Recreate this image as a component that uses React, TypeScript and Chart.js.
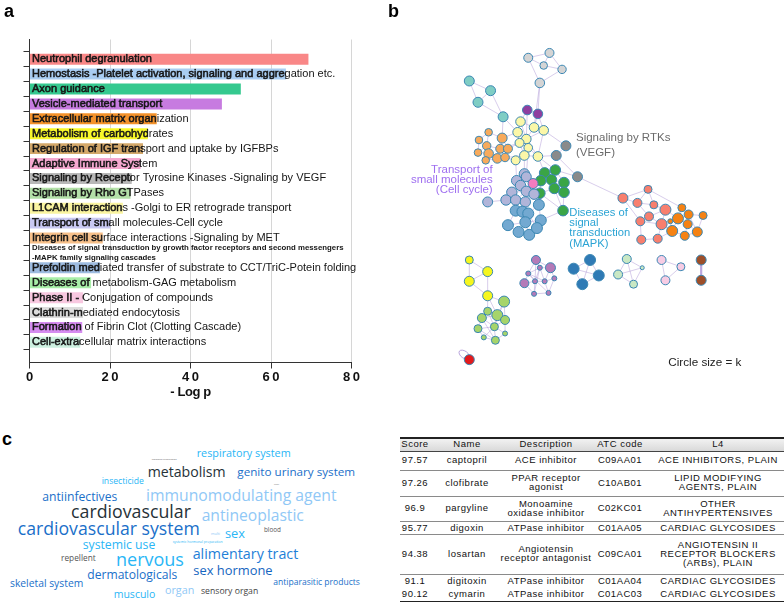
import React, { useEffect, useRef } from 'react';
import { Chart, registerables } from 'chart.js';
Chart.register(...registerables);

const FONT = '"Liberation Sans", Arial, Helvetica, sans-serif';

// ---------- Panel a data ----------
const pathways: (string | string[])[] = [
  'Neutrophil degranulation',
  'Hemostasis -Platelet activation, signaling and aggregation etc.',
  'Axon guidance',
  'Vesicle-mediated transport',
  'Extracellular matrix organization',
  'Metabolism of carbohydrates',
  'Regulation of IGF transport and uptake by IGFBPs',
  'Adaptive Immune System',
  'Signaling by Receptor Tyrosine Kinases -Signaling by VEGF',
  'Signaling by Rho GTPases',
  'L1CAM interactions -Golgi to ER retrograde transport',
  'Transport of small molecules-Cell cycle',
  'Integrin cell surface interactions -Signaling by MET',
  ['Diseases of signal transduction by growth factor receptors and second messengers', '-MAPK family signaling cascades'],
  'Prefoldin mediated transfer of substrate to CCT/TriC-Potein folding',
  'Diseases of metabolism-GAG metabolism',
  'Phase II - Conjugation of compounds',
  'Clathrin-mediated endocytosis',
  'Formation of Fibrin Clot (Clotting Cascade)',
  'Cell-extracellular matrix interactions',
];
const logP: (number | null)[] = [69.3, 63.7, 52.5, 47.8, 31.6, 29.4, 28.2, 27.6, 25.4, 25.1, 23.2, 20.1, 18.2, null, 17.5, 15.3, 13.3, 13.3, 13.1, 12.6];
const barColors = ['#f98787', '#a9cdf2', '#35c98f', '#c77be0', '#f4922a', '#f8f82a', '#d4a86a', '#f5a8d0', '#b8b8b8', '#b3e0a8', '#faf4a0', '#c8c8f2', '#f7c08a', '#ffffff', '#9dbbe0', '#a8eea8', '#f8c8e0', '#dcdcdc', '#d58cf0', '#cdf0e0'];
const xTicks = [0, 20, 40, 60, 80];
const xTitle = '- Log p';

// ---------- Panel b data ----------
const nodes: [string, number, number, number][] = [
  ['g0', 126, 53, 4.5], ['g1', 148, 48, 4.5], ['g2', 142, 61, 3.8], ['g3', 161, 65, 4.2], ['g4', 138, 79, 4.8],
  ['t0', 65, 77, 5], ['t1', 87, 87, 5], ['t2', 74, 99, 5], ['t3', 100, 114, 5],
  ['p0', 125, 107, 4.8], ['p1', 136, 111, 4.8],
  ['y0', 118, 119, 4.8], ['y1', 132, 125, 4.8], ['y2', 142, 128, 4.8], ['y3', 115, 130, 4.8], ['y4', 124, 137, 4.8],
  ['y5', 117, 141, 4.5], ['y6', 126, 146, 4.3], ['y7', 122, 154, 4.8], ['y8', 136, 155, 4.8], ['y9', 113, 159, 4.5],
  ['o0', 85, 130, 3.8], ['o1', 75, 138, 3.8], ['o2', 99, 136, 5], ['o3', 83, 144, 4.2], ['o4', 97, 147, 4.5], ['o5', 105, 147, 4.5],
  ['o6', 74, 151, 3.8], ['o7', 85, 152, 4.8], ['o8', 94, 157, 4.8], ['o9', 102, 156, 4.3], ['o10', 82, 159, 3.8],
  ['r0', 165, 144, 5], ['r1', 155, 154, 5], ['r2', 177, 176, 5],
  ['gr0', 143, 172, 5.3], ['gr1', 154, 169, 5.3], ['gr2', 139, 180, 5.3], ['gr3', 150, 179, 5.3], ['gr4', 163, 182, 5.3],
  ['gr5', 153, 188, 5.3], ['gr6', 163, 192, 5.3], ['gr7', 138, 193, 5.3], ['gr9', 162, 211, 5.3],
  ['l0', 122, 173, 5.2], ['l1', 114, 180, 5.2], ['l2', 118, 185, 5.2], ['l3', 124, 191, 5.2], ['l4', 132, 194, 5.2],
  ['l5', 109, 192, 5.2], ['l6', 84, 202, 5], ['l7', 103, 200, 5.2], ['l8', 113, 200, 5.2], ['l9', 123, 202, 5.2], ['l11', 124, 176, 5],
  ['pk0', 131, 183, 5],
  ['s0', 113, 211, 5.5], ['s1', 120, 212, 5.5], ['s2', 126, 214, 5.5], ['s3', 137, 205, 5.5], ['s4', 105, 226, 5.5],
  ['s5', 123, 223, 5.5], ['s6', 139, 221, 5.5], ['s7', 116, 233, 5.5], ['s8', 127, 236, 5.5], ['s9', 135, 229, 5.5],
  ['sa0', 224, 198, 5], ['sa1', 250, 189, 4], ['sa2', 239, 203, 4.5], ['sa3', 256, 205, 4], ['sa4', 268, 210, 5.5],
  ['sa5', 251, 217, 4.5], ['sa6', 264, 225, 5.5], ['sa7', 242, 222, 4.5], ['sa8', 243, 241, 4.5], ['sa9', 260, 240, 4.5],
  ['or0', 285, 208, 4], ['or1', 292, 215, 4.5], ['or2', 307, 216, 4], ['or3', 281, 219, 5.5], ['or4', 275, 232, 5.5],
  ['or5', 288, 237, 4.5], ['or6', 301, 233, 5], ['or7', 291, 225, 4.5], ['or8', 273, 222, 2.5],
  ['ye0', 65, 262, 4], ['ye1', 84, 274, 5], ['ye2', 65, 284, 5], ['ye3', 84, 299, 5],
  ['gy0', 101, 305, 5.5], ['gy1', 84, 315, 4], ['gy2', 94, 319, 5.5], ['gy3', 78, 322, 4.5], ['gy4', 102, 324, 4.5],
  ['gy5', 74, 333, 4], ['gy6', 91, 331, 4], ['gy7', 102, 338, 2.5], ['gy8', 80, 342, 2.5], ['gy9', 92, 345, 4],
  ['rd0', 65, 365, 5],
  ['pm0', 134, 262, 4.5], ['pm1', 149, 270, 5], ['pm2', 122, 286, 4.5], ['pm3', 138, 270, 2.5], ['pm4', 126, 276, 2.5],
  ['pm5', 133, 284, 2.5], ['pm6', 143, 284, 2.5], ['pm7', 153, 281, 2.5], ['pm8', 147, 296, 2.5], ['pm9', 132, 297, 2.5],
  ['bd0', 173, 271, 5.5], ['bd1', 190, 262, 5.5], ['bd2', 199, 278, 5.5], ['bd3', 182, 287, 5.5],
  ['pg0', 228, 261, 4.5], ['pg1', 219, 277, 4.5], ['pg2', 244, 270, 2], ['pg3', 235, 287, 4],
  ['pl0', 264, 262, 4.5], ['pl1', 284, 269, 4], ['pl2', 268, 283, 4.5],
  ['br0', 305, 262, 5], ['br1', 305, 283, 5],
];
const groupColors: Record<string, string> = {
  g: '#d4d4d4', t: '#7fcdc4', p: '#8e3f9f', y: '#fbf7a8', o: '#f7aa5c', r: '#8a8a8a', gr: '#3aa546', pk: '#f27cbf',
  l: '#b1b5d9', s: '#73a9d1', sa: '#f77f6e', or: '#f58213', ye: '#f6f61e', gy: '#a6d46a', rd: '#e31a1c',
  pm: '#b47ab8', bd: '#2f7ab5', pg: '#c9e8c4', pl: '#f7cce4', br: '#9d4f2a',
};
const edges = (
  'g0-g1 g0-g2 g0-g4 g1-g3 g2-g3 g1-g2 g3-g4 g4-y1 g4-p1 ' +
  't0-t1 t0-t2 t1-t2 t1-t3 t2-t3 t3-y3 t3-o2 ' +
  'p0-p1 p0-y0 p1-y1 p0-y4 p1-y2 ' +
  'y0-y1 y0-y3 y1-y2 y1-y4 y2-y4 y3-y4 y3-y5 y4-y6 y5-y6 y6-y7 y6-y8 y7-y9 y5-y7 y8-y2 y0-y4 y9-y6 y4-y8 y7-y8 ' +
  'y3-o2 y5-o5 y9-o9 y7-o8 y5-o4 ' +
  'o0-o2 o0-o1 o1-o3 o2-o4 o3-o4 o4-o5 o3-o6 o3-o7 o6-o7 o7-o8 o8-o9 o4-o9 o7-o10 o10-o8 o0-o3 o2-o5 o1-o6 ' +
  'y8-r1 y2-r0 r0-r1 r1-r2 r2-sa0 r2-gr1 ' +
  'y7-l0 y9-l1 y8-gr0 y6-l11 y8-gr1 ' +
  'gr0-gr1 gr0-gr2 gr1-gr3 gr2-gr3 gr3-gr4 gr3-gr5 gr4-gr6 gr5-gr6 gr2-gr7 gr5-gr7 gr1-gr4 gr6-gr9 gr7-gr9 gr5-gr9 ' +
  'pk0-gr2 pk0-l0 pk0-l4 pk0-gr7 ' +
  'l0-l1 l0-l2 l1-l2 l2-l3 l3-l4 l1-l5 l5-l3 l5-l7 l7-l8 l8-l9 l3-l9 l6-l7 l4-l9 l11-l0 l11-l2 l8-l3 l4-gr7 ' +
  's0-s1 s1-s2 s2-s3 s0-s4 s0-s5 s1-s5 s5-s6 s3-s6 s4-s7 s5-s7 s7-s8 s5-s8 s8-s9 s6-s9 s2-s9 s4-s5 l8-s0 l9-s1 l9-s2 l4-s3 gr7-s3 gr9-s6 ' +
  'sa0-sa1 sa0-sa2 sa1-sa2 sa1-sa3 sa2-sa3 sa3-sa4 sa2-sa5 sa5-sa4 sa5-sa7 sa5-sa6 sa4-sa6 sa7-sa8 sa6-sa9 sa8-sa9 sa7-sa6 sa0-sa7 sa1-or0 sa4-or3 sa6-or4 sa9-or4 ' +
  'or0-or1 or1-or2 or0-or3 or3-or7 or1-or7 or7-or5 or4-or5 or5-or6 or6-or2 or6-or7 or3-or4 or8-or3 or8-or4 or1-or6 ' +
  'ye0-ye1 ye0-ye2 ye1-ye2 ye1-ye3 ye2-ye3 ye3-gy0 ye3-gy1 ye3-gy2 ' +
  'gy0-gy2 gy0-gy4 gy1-gy2 gy1-gy3 gy2-gy3 gy2-gy4 gy2-gy6 gy3-gy5 gy3-gy6 gy5-gy6 gy6-gy7 gy6-gy8 gy6-gy9 gy4-gy7 gy8-gy9 gy5-gy8 gy0-gy6 gy1-gy6 gy4-gy6 gy7-gy9 gy3-gy9 gy5-gy9 ' +
  'pm0-pm1 pm0-pm3 pm0-pm4 pm1-pm3 pm1-pm7 pm2-pm4 pm2-pm5 pm3-pm4 pm3-pm5 pm3-pm6 pm4-pm5 pm5-pm6 pm6-pm7 pm6-pm8 pm5-pm9 pm8-pm9 pm7-pm8 pm2-pm9 pm1-pm6 pm0-pm5 pm4-pm6 pm3-pm9 pm4-pm8 ' +
  'bd0-bd1 bd1-bd2 bd2-bd3 bd3-bd0 bd0-bd2 bd1-bd3 ' +
  'pg0-pg1 pg0-pg2 pg0-pg3 pg1-pg3 pg1-pg2 pg2-pg3 ' +
  'pl0-pl1 pl0-pl2 pl1-pl2 br0-br1'
).split(' ');

// ---------- Panel c data ----------
const words = ['respiratory system', 'hormonal preparation', 'metabolism', 'genito urinary system', 'insecticide', 'various',
  'antiinfectives', 'immunomodulating agent', 'cardiovascular', 'antineoplastic', 'cardiovascular system', 'sex', 'blood',
  'multi', 'systemic hormonal preparation', 'systemic use', 'repellent', 'nervous', 'alimentary tract', 'sex hormone',
  'dermatologicals', 'skeletal system', 'antiparasitic products', 'musculo', 'organ', 'sensory organ'];
const wordColors = ['#29b6f6', '#666', '#263238', '#1a6fc9', '#29b6f6', '#666', '#1a6fc9', '#90c8f6', '#263238', '#90c8f6',
  '#1a6fc9', '#29b6f6', '#555', '#90c8f6', '#29b6f6', '#29b6f6', '#555', '#29b6f6', '#1e80d8', '#1565c0', '#1a6fc9',
  '#1a6fc9', '#1a6fc9', '#29b6f6', '#90c8f6', '#444'];
// layout: [left, centerY, width]
const wordLayout: [number, number, number][] = [
  [196.7, 453.3, 94], [151.7, 458.7, 25], [147.7, 472.3, 78], [237.3, 472.3, 118], [101.7, 481, 42.3], [274, 485, 5],
  [42.3, 497, 75], [146, 496, 190.7], [71, 512, 120], [201.7, 515.7, 102.3], [17.7, 529, 182.3], [225, 532.7, 20],
  [264, 529.7, 17], [211, 534.3, 9], [172.7, 542.3, 50], [82.7, 545.3, 72.7], [61, 558.3, 34.7], [116, 558.7, 68],
  [192.7, 554.3, 105.7], [193.3, 570.3, 79.3], [87.3, 574.7, 90], [10, 583.3, 73.3], [273.3, 582.3, 86.7],
  [113.7, 593.7, 41.7], [165, 590, 29.3], [201, 591.3, 57.3],
];

const tableHeader = ['Score', 'Name', 'Description', 'ATC code', 'L4'];
const scores = ['97.57', '97.26', '96.9', '95.77', '94.38', '91.1', '90.12'];
const drugNames = ['captopril', 'clofibrate', 'pargyline', 'digoxin', 'losartan', 'digitoxin', 'cymarin'];
const descriptions = ['ACE inhibitor', 'PPAR receptor\nagonist', 'Monoamine\noxidase inhibitor', 'ATPase inhibitor', 'Angiotensin\nreceptor antagonist', 'ATPase inhibitor', 'ATPase inhibitor'];
const atcCodes = ['C09AA01', 'C10AB01', 'C02KC01', 'C01AA05', 'C09CA01', 'C01AA04', 'C01AC03'];
const l4Classes = ['ACE INHIBITORS, PLAIN', 'LIPID MODIFYING\nAGENTS, PLAIN', 'OTHER\nANTIHYPERTENSIVES', 'CARDIAC GLYCOSIDES', 'ANGIOTENSIN II\nRECEPTOR BLOCKERS\n(ARBs), PLAIN', 'CARDIAC GLYCOSIDES', 'CARDIAC GLYCOSIDES'];

// ---------- Components ----------
function BarPanel() {
  const ref = useRef<HTMLCanvasElement>(null);
  useEffect(() => {
    const labelPlugin = {
      id: 'barLabels',
      afterDatasetsDraw(chart: any) {
        const { ctx, chartArea } = chart;
        const meta = chart.getDatasetMeta(0);
        const ys = chart.scales.y;
        pathways.forEach((label, i) => {
          const y = ys.getPixelForValue(i);
          const x = chartArea.left + 2.5;
          ctx.save();
          ctx.fillStyle = '#161616';
          ctx.textBaseline = 'middle';
          ctx.textAlign = 'left';
          if (Array.isArray(label)) {
            ctx.font = `bold 7.8px ${FONT}`;
            ctx.fillText(label[0], x, y - 4.8);
            ctx.fillText(label[1], x, y + 4.8);
          } else {
            ctx.font = `11px ${FONT}`;
            ctx.fillText(label, x, y);
            const bar = meta.data[i];
            if (bar && logP[i] != null) {
              const p = bar.getProps(['x', 'base', 'height'], true);
              ctx.beginPath();
              ctx.rect(p.base, y - p.height / 2, p.x - p.base, p.height);
              ctx.clip();
              ctx.strokeStyle = '#161616';
              ctx.lineWidth = 0.55;
              ctx.strokeText(label, x, y);
            }
          }
          ctx.restore();
        });
      },
      afterDraw(chart: any) {
        const { ctx } = chart;
        const xs = chart.scales.x;
        ctx.save();
        ctx.fillStyle = '#111';
        ctx.textAlign = 'center';
        ctx.textBaseline = 'middle';
        ctx.font = `bold 13px ${FONT}`;
        (ctx as any).letterSpacing = '2.5px';
        xTicks.forEach((t) => ctx.fillText(String(t), xs.getPixelForValue(t) + 1.25, xs.top + 15));
        (ctx as any).letterSpacing = '-0.4px';
        ctx.fillText(xTitle, (xs.left + xs.right) / 2, xs.top + 30);
        ctx.restore();
      },
    };
    const chart = new Chart(ref.current!, {
      type: 'bar',
      data: {
        datasets: [{
          data: logP.map((v, i) => ({ x: v, y: i })) as any,
          backgroundColor: barColors,
          borderWidth: 0,
          barPercentage: 0.92,
          categoryPercentage: 0.8,
        }],
      },
      options: {
        indexAxis: 'y',
        animation: false,
        responsive: false,
        layout: { padding: { left: 23.5, right: 48.5, top: 39.5, bottom: 7.5 } },
        plugins: { legend: { display: false }, tooltip: { enabled: false } },
        scales: {
          x: {
            type: 'linear', min: 0, max: 80, position: 'bottom',
            ticks: { display: false, stepSize: 20 },
            grid: { color: '#d6d6d6', tickColor: '#333', tickLength: 6, lineWidth: 1 },
            border: { color: '#333', width: 1 },
            afterFit(s: any) { s.height = 40; },
          },
          y: {
            type: 'linear', reverse: true, min: -0.78, max: 19.81, position: 'left',
            afterBuildTicks(s: any) { s.ticks = pathways.map((_, i) => ({ value: i })); },
            ticks: { display: false },
            grid: { drawOnChartArea: false, tickColor: '#333', tickLength: 6 },
            border: { color: '#333', width: 1 },
            afterFit(s: any) { s.width = 6; },
          },
        },
      } as any,
      plugins: [labelPlugin],
    });
    return () => chart.destroy();
  }, []);
  return <canvas ref={ref} width={400} height={410} style={{ position: 'absolute', left: 0, top: 0, width: 400, height: 410 }} />;
}

function NetworkPanel() {
  const ref = useRef<HTMLCanvasElement>(null);
  useEffect(() => {
    const idx: Record<string, number> = {};
    nodes.forEach((n, i) => { idx[n[0]] = i; });
    const edgePlugin = {
      id: 'edges',
      beforeDatasetsDraw(chart: any) {
        const { ctx } = chart;
        const xs = chart.scales.x, ys = chart.scales.y;
        ctx.save();
        edges.forEach((e) => {
          const [a, b] = e.split('-');
          const na = nodes[idx[a]], nb = nodes[idx[b]];
          if (!na || !nb) return;
          ctx.beginPath();
          ctx.strokeStyle = a.startsWith('br') ? 'rgba(170,145,215,0.8)' : 'rgba(165,140,210,0.55)';
          ctx.lineWidth = a.startsWith('br') ? 2.2 : 0.8;
          ctx.moveTo(xs.getPixelForValue(na[1]), ys.getPixelForValue(na[2]));
          ctx.lineTo(xs.getPixelForValue(nb[1]), ys.getPixelForValue(nb[2]));
          ctx.stroke();
        });
        const rd = nodes[idx['rd0']];
        const cx = xs.getPixelForValue(rd[1]) - 5, cy = ys.getPixelForValue(rd[2]) - 5;
        ctx.beginPath();
        ctx.strokeStyle = 'rgba(165,140,210,0.8)';
        ctx.lineWidth = 1;
        ctx.ellipse(cx, cy, 6, 3.5, Math.PI / 5, 0, Math.PI * 2);
        ctx.stroke();
        ctx.restore();
      },
    };
    const chart = new Chart(ref.current!, {
      type: 'bubble',
      data: {
        datasets: [{
          data: nodes.map((n) => ({ x: n[1], y: n[2], r: n[3] })),
          backgroundColor: nodes.map((n) => groupColors[n[0].replace(/\d+$/, '')]),
          borderColor: '#3b87b3',
          borderWidth: 1,
        }],
      },
      options: {
        animation: false,
        responsive: false,
        layout: { padding: 0 },
        plugins: { legend: { display: false }, tooltip: { enabled: false } },
        scales: {
          x: { type: 'linear', min: 0, max: 384, display: false },
          y: { type: 'linear', min: 0, max: 400, reverse: true, display: false },
        },
      } as any,
      plugins: [edgePlugin],
    });
    return () => chart.destroy();
  }, []);
  return <canvas ref={ref} width={384} height={400} style={{ position: 'absolute', left: 400, top: 0, width: 384, height: 400 }} />;
}

const measureCtx = typeof document !== 'undefined' ? document.createElement('canvas').getContext('2d') : null;
const CLOUD_FONT = '"Open Sans", "Noto Sans", sans-serif';
function fitSize(text: string, target: number) {
  if (!measureCtx) return 12;
  measureCtx.font = `100px ${CLOUD_FONT}`;
  const w = measureCtx.measureText(text).width;
  return (100 * target) / w;
}

function WordCloud() {
  return (
    <>
      {words.map((w, i) => {
        const [x, y, wd] = wordLayout[i];
        return (
          <span key={w} style={{
            position: 'absolute', left: x, top: y, transform: 'translateY(-50%)', fontFamily: CLOUD_FONT,
            fontSize: fitSize(w, wd), lineHeight: 1, whiteSpace: 'nowrap', color: wordColors[i],
          }}>{w}</span>
        );
      })}
    </>
  );
}

const colWidths = [30, 74, 84, 64, 132];
const rowHeights = [19, 26, 25.5, 13, 39.5, 13, 13];

function DrugTable() {
  const cell = (txt: string, j: number, key: string) => (
    <div key={key} style={{
      width: colWidths[j], display: 'flex', alignItems: 'center', justifyContent: 'center', textAlign: 'center',
      whiteSpace: 'pre', lineHeight: '8.9px',
    }}>{txt}</div>
  );
  return (
    <div style={{ position: 'absolute', left: 400, top: 436.5, width: 384, fontFamily: FONT, fontSize: 9.5, letterSpacing: '0.5px', color: '#111', borderTop: '2px solid #222', borderBottom: '2px solid #222', boxSizing: 'border-box' }}>
      <div style={{ display: 'flex', height: 13, background: 'linear-gradient(#f2f2f2,#d9d9d9)', borderBottom: '1px solid #444', boxSizing: 'border-box' }}>
        {tableHeader.map((h, j) => cell(h, j, 'h' + j))}
      </div>
      {scores.map((s, i) => (
        <div key={s} style={{ display: 'flex', height: rowHeights[i], boxSizing: 'border-box', borderBottom: i < 5 ? '1px solid #8a8a8a' : 'none' }}>
          {[s, drugNames[i], descriptions[i], atcCodes[i], l4Classes[i]].map((t, j) => cell(t, j, i + '-' + j))}
        </div>
      ))}
    </div>
  );
}

const abs = (l: number, t: number, extra: any = {}) => ({ position: 'absolute' as const, left: l, top: t, ...extra });

export default function App() {
  return (
    <div style={{ position: 'absolute', left: 0, top: 0, width: 784, height: 602, overflow: 'hidden', background: '#fff', fontFamily: FONT }}>
      <BarPanel />
      <NetworkPanel />
      <div style={abs(4, 1.5, { fontWeight: 'bold', fontSize: 18, lineHeight: 1 })}>a</div>
      <div style={abs(388, 1.5, { fontWeight: 'bold', fontSize: 18, lineHeight: 1 })}>b</div>
      <div style={abs(2, 429.5, { fontWeight: 'bold', fontSize: 18, lineHeight: 1 })}>c</div>
      <div style={abs(576, 130, { fontSize: 11.5, lineHeight: '14.7px', color: '#6b6b6b', whiteSpace: 'pre' })}>{'Signaling by RTKs\n(VEGF)'}</div>
      <div style={abs(400, 163.5, { width: 92.7, textAlign: 'right', fontSize: 11.5, lineHeight: '10.4px', color: '#9f6ff0', whiteSpace: 'pre' })}>{'Transport of\nsmall molecules\n(Cell cycle)'}</div>
      <div style={abs(569.3, 206.5, { fontSize: 11.2, lineHeight: '10.4px', color: '#2aa3d4', whiteSpace: 'pre' })}>{'Diseases of\nsignal\ntransduction\n(MAPK)'}</div>
      <div style={abs(668.3, 354.5, { fontSize: 11.7, lineHeight: '14px', color: '#222', whiteSpace: 'pre' })}>{'Circle size = k'}</div>
      <WordCloud />
      <DrugTable />
    </div>
  );
}
